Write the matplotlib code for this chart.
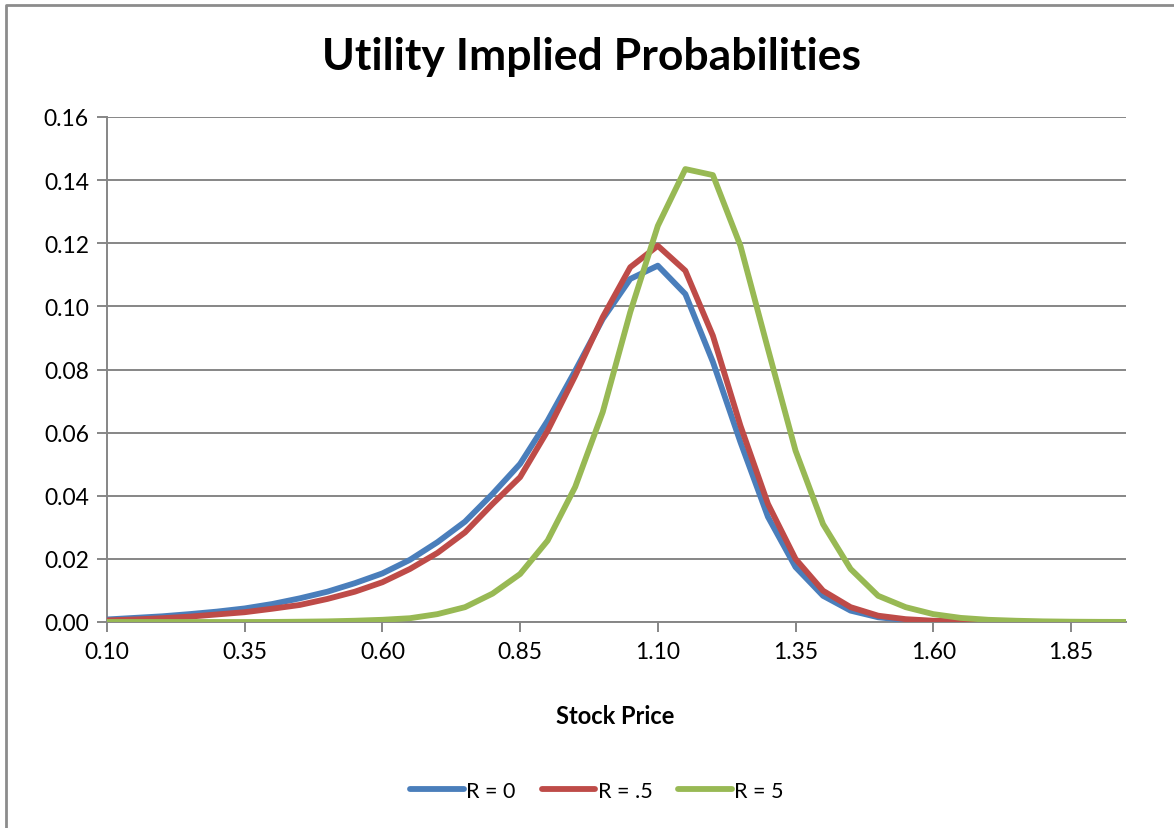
import matplotlib
matplotlib.use('Agg')
import matplotlib.pyplot as plt
from matplotlib.lines import Line2D

plt.rcParams['font.family'] = ['Lato', 'DejaVu Sans']

stock_price = [0.10, 0.15, 0.20, 0.25, 0.30, 0.35, 0.40, 0.45, 0.50, 0.55,
               0.60, 0.65, 0.70, 0.75, 0.80, 0.85, 0.90, 0.95, 1.00, 1.05,
               1.10, 1.15, 1.20, 1.25, 1.30, 1.35, 1.40, 1.45, 1.50, 1.55,
               1.60, 1.65, 1.70, 1.75, 1.80, 1.85, 1.90, 1.95]

# R = 0
r_0 = [0.0008, 0.0013, 0.0018, 0.0025, 0.0033, 0.0043, 0.0057, 0.0075, 0.0096, 0.0123,
       0.0154, 0.0197, 0.0253, 0.0318, 0.0406, 0.0501, 0.0638, 0.0796, 0.0960, 0.1087,
       0.1129, 0.1039, 0.0824, 0.0570, 0.0333, 0.0174, 0.0083, 0.0036, 0.0015, 0.0006,
       0.0002, 0.0001, 0.00005, 0.00002, 0.00001, 0.0, 0.0, 0.0]
# R = .5
r_05 = [0.0005, 0.0008, 0.0012, 0.0017, 0.0024, 0.0031, 0.0042, 0.0054, 0.0073, 0.0096,
        0.0126, 0.0168, 0.0219, 0.0284, 0.0374, 0.0459, 0.0606, 0.0780, 0.0966, 0.1124,
        0.1192, 0.1113, 0.0907, 0.0622, 0.0374, 0.0200, 0.0099, 0.0047, 0.0020, 0.0009,
        0.0004, 0.0002, 0.0001, 0.00005, 0.00002, 0.00001, 0.0, 0.0]
# R = 5
r_5 = [0.0, 0.0, 0.0, 0.0, 0.0, 0.0, 0.00002, 0.0001, 0.0002, 0.0004,
       0.0007, 0.0012, 0.0025, 0.0047, 0.0090, 0.0152, 0.0258, 0.0428, 0.0665, 0.0982,
       0.1255, 0.1435, 0.1416, 0.1192, 0.0865, 0.0543, 0.0310, 0.0168, 0.0083, 0.0047,
       0.0025, 0.0013, 0.0007, 0.0004, 0.0002, 0.0001, 0.00005, 0.00003]

x_ticks = [0.10, 0.35, 0.60, 0.85, 1.10, 1.35, 1.60, 1.85]
y_ticks = [0.00, 0.02, 0.04, 0.06, 0.08, 0.10, 0.12, 0.14, 0.16]

grid_col = '#868686'

fig = plt.figure(figsize=(11.74, 8.29), dpi=100)
ax = fig.add_axes([107/1174, 1-623/829, (1126-107)/1174, (623-118)/829])

ax.plot(stock_price, r_0, color='#4A7EBB', lw=4.2, label='R = 0', solid_capstyle='round', zorder=3)
ax.plot(stock_price, r_05, color='#BE4B48', lw=4.2, label='R = .5', solid_capstyle='round', zorder=3)
ax.plot(stock_price, r_5, color='#98B954', lw=4.2, label='R = 5', solid_capstyle='round', zorder=3)

ax.set_xlim(0.10, 1.95)
ax.set_ylim(0, 0.16)
ax.set_xticks(x_ticks)
ax.set_xticklabels([f'{v:.2f}' for v in x_ticks])
ax.set_yticks(y_ticks)
ax.set_yticklabels([f'{v:.2f}' for v in y_ticks])
ax.yaxis.grid(True, color=grid_col, lw=1.4)
ax.set_axisbelow(True)

for s in ['top', 'right']:
    ax.spines[s].set_visible(False)
for s in ['left', 'bottom']:
    ax.spines[s].set_color(grid_col)
    ax.spines[s].set_linewidth(1.4)
ax.tick_params(axis='both', colors=grid_col, length=7, width=1.4, labelsize=16.5, labelcolor='black')
ax.tick_params(axis='y', pad=6)
ax.tick_params(axis='x', pad=7)

fig.text(591/1174, 1-57/829, 'Utility Implied Probabilities', ha='center', va='center',
         fontsize=32, fontweight='bold')
fig.text(615/1174, 1-717/829, 'Stock Price', ha='center', va='center',
         fontsize=17, fontweight='bold')

fig.legend(loc='center', bbox_to_anchor=(597/1174, 1-792/829), ncol=3, frameon=False,
           fontsize=15.5, handlelength=2.5, handletextpad=0.1, columnspacing=1.2)

# chart outer border (only top and left show in the picture)
fig.add_artist(Line2D([6/1174, 6/1174, 1.0], [0.0, 1-6/829, 1-6/829],
                      transform=fig.transFigure, color='#8c8c8c', lw=2))

fig.savefig('out.png', dpi=100)
